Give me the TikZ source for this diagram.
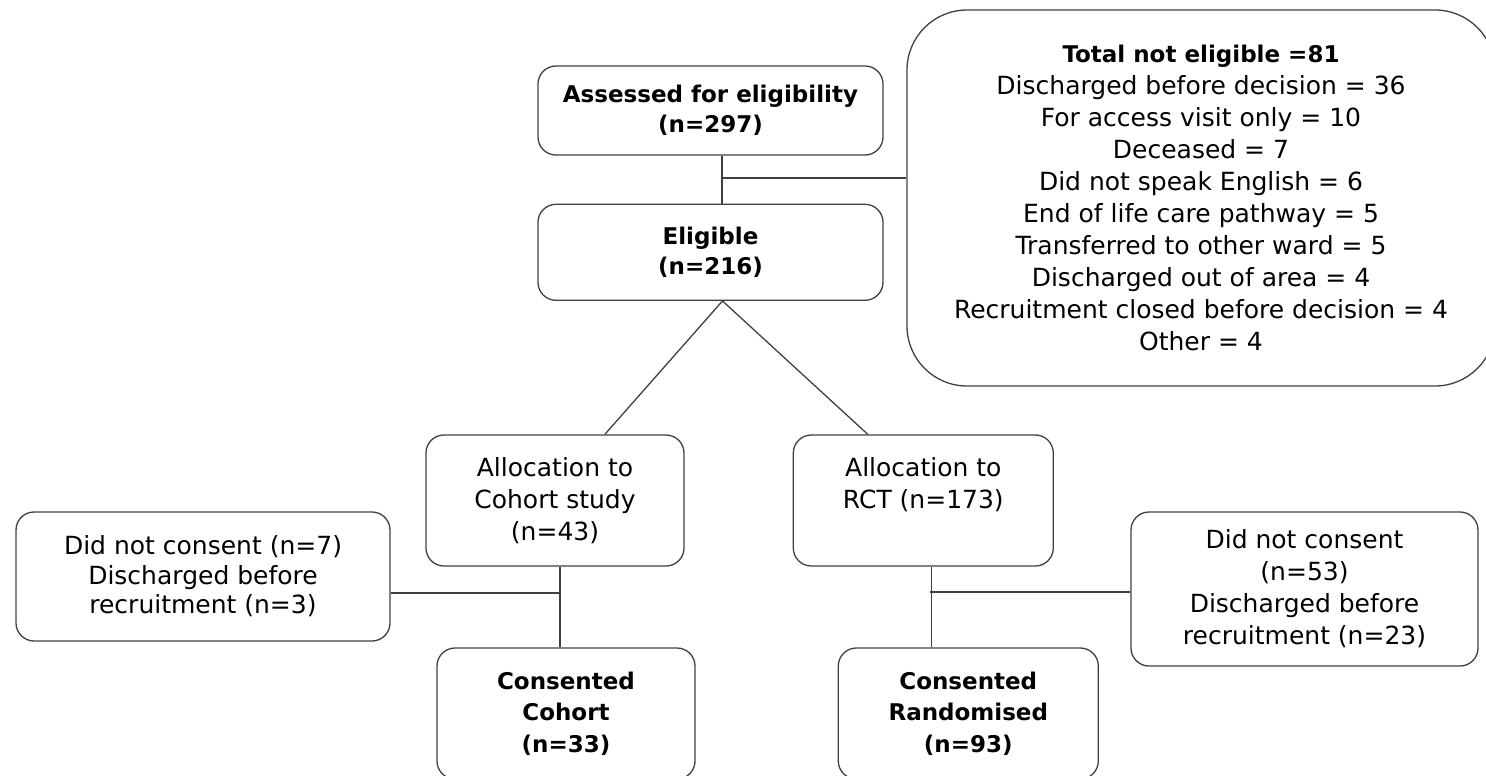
\documentclass[tikz,border=0pt]{standalone}
\usepackage{fontspec}
\setmainfont{DejaVu Sans}
\usetikzlibrary{positioning}
\tikzstyle{box} = [draw=black!75, line width=1.3pt, rounded corners=18pt, align=center,
inner sep=0pt, font=\fontsize{25}{32}\selectfont]
\tikzstyle{boldbox} = [box, font=\fontsize{23}{30}\selectfont\bfseries]
\tikzstyle{link} = [draw=black!75, line width=1.3pt]

\begin{document}
\begin{tikzpicture}[x=1pt, y=-1pt]
\useasboundingbox (0,0) rectangle (1486,776);

\node[boldbox, minimum width=345pt, minimum height=89pt] (assess) at (710.5,110.5) {Assessed for eligibility\\(n=297)};
\node[boldbox, minimum width=345pt, minimum height=96pt, below=48pt of assess] (elig) {Eligible\\(n=216)};
\node[box, minimum width=588pt, minimum height=376pt, rounded corners=60pt] (notelig) at (1201,198)
{{\fontsize{23}{32}\selectfont\bfseries Total not eligible =81}\\
Discharged before decision = 36\\
For access visit only = 10\\
Deceased = 7\\
Did not speak English = 6\\
End of life care pathway = 5\\
Transferred to other ward = 5\\
Discharged out of area = 4\\
Recruitment closed before decision = 4\\
Other = 4};

\node[box, minimum width=258pt, minimum height=131pt] (cohort) at (555,500.5) {Allocation to\\Cohort study\\(n=43)};
\node[box, minimum width=260pt, minimum height=131pt, right=108pt of cohort] (rct) {Allocation to\\RCT (n=173)\\\vphantom{(n)}};
\node[box, minimum width=374pt, minimum height=129pt, font=\fontsize{25}{29.5}\selectfont] (leftx) at (203,576.5)
{Did not consent (n=7)\\Discharged before\\recruitment (n=3)};
\node[box, minimum width=347pt, minimum height=154pt] (rightx) at (1304.5,589)
{Did not consent\\(n=53)\\Discharged before\\recruitment (n=23)};

\node[boldbox, minimum width=258pt, minimum height=131pt, font=\fontsize{23}{31.5}\selectfont\bfseries] (ccoh) at (566,713.5) {Consented\\Cohort\\(n=33)};
\node[boldbox, minimum width=260pt, minimum height=131pt, font=\fontsize{23}{31.5}\selectfont\bfseries, right=142pt of ccoh] (crand) {Consented\\Randomised\\(n=93)};

% top part
\draw[link] ([xshift=11.5pt]assess.south) -- ([xshift=11.5pt]elig.north);
\coordinate (tj) at (722,178);
\draw[link] (tj) -- (tj -| notelig.west);
\draw[link] (cohort.53) -- ([xshift=12pt]elig.south) -- (rct.130);

% cohort branch
\draw[link] ([xshift=5pt]cohort.south) -- ([xshift=5pt]cohort.south |- ccoh.north);
\coordinate (lj) at (560,593);
\draw[link] (lj) -- (lj -| leftx.east);

% rct branch
\draw[link] ([xshift=8pt]rct.south) -- ([xshift=8pt]rct.south |- crand.north);
\coordinate (rj) at (930,592);
\draw[link] (rj) -- (rj -| rightx.west);

\end{tikzpicture}
\end{document}
